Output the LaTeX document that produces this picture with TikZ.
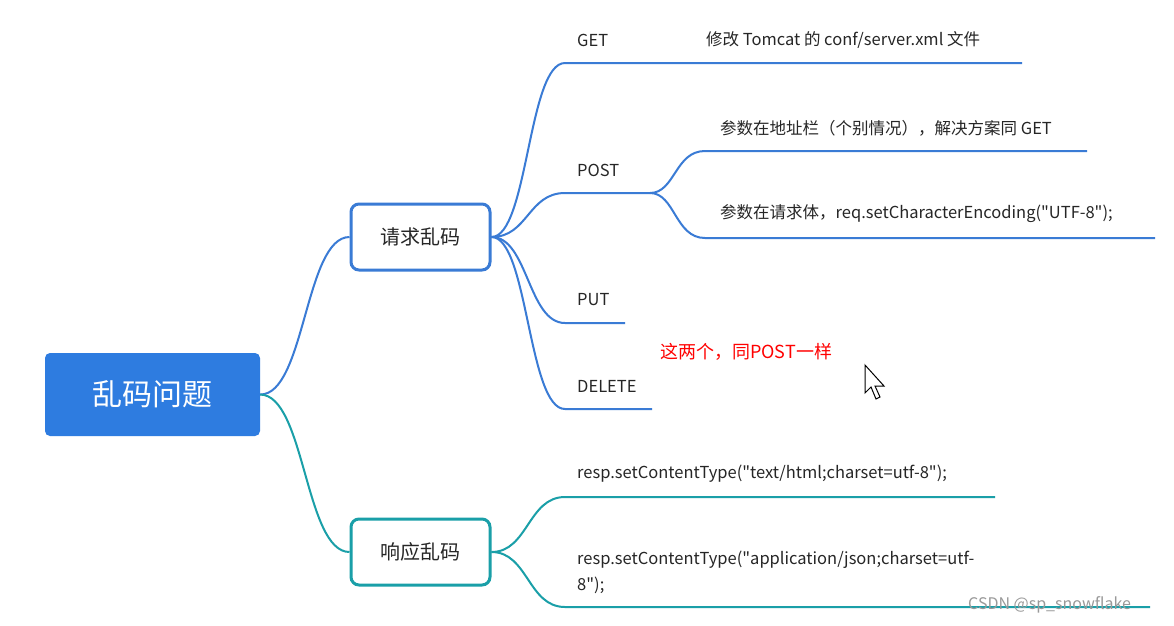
\documentclass[tikz,border=0pt]{standalone}
\usepackage{fontspec}
\setmainfont{Noto Sans CJK SC}[Ligatures=TeXOff]
\begin{document}
\begin{tikzpicture}[x=1pt,y=-1pt,
  bl/.style={draw=myblue,line width=2pt},
  tl/.style={draw=myteal,line width=2pt},
  lab/.style={anchor=west,inner sep=0pt,font=\fontsize{16.5}{19}\selectfont,text=black!85}]
\definecolor{myblue}{HTML}{3A7BD5}
\definecolor{myteal}{HTML}{1A9FA8}
\definecolor{rootb}{HTML}{2E7CE0}
\useasboundingbox (0,0) rectangle (1174,625);
\fill[white] (0,0) rectangle (1174,625);
\node[fill=rootb,rounded corners=5pt,minimum width=215pt,minimum height=83pt,text=white,font=\fontsize{30}{34}\selectfont] (root) at (152.5,394.5) {乱码问题};
\node[draw=myblue,line width=3pt,fill=white,rounded corners=8pt,minimum width=139pt,minimum height=66pt,font=\fontsize{20}{24}\selectfont,text=black!85] (req) at (420.5,237) {请求乱码};
\node[draw=myteal,line width=3pt,fill=white,rounded corners=8pt,minimum width=139pt,minimum height=66pt,font=\fontsize{20}{24}\selectfont,text=black!85] (resp) at (420.5,552) {响应乱码};
\coordinate (rr) at (root.east);
\draw[bl] (rr) .. controls (305,395) and (305,237) .. (req.west);
\draw[tl] (rr) .. controls (305,395) and (305,552) .. (resp.west);
% request branches
\coordinate (qr) at (req.east);
\coordinate (g0) at (565,63); \coordinate (g1) at (1022,63);
\coordinate (p0) at (565,193); \coordinate (p1) at (650,193);
\coordinate (u0) at (565,323); \coordinate (u1) at (625,323);
\coordinate (d0) at (565,409); \coordinate (d1) at (652,409);
\draw[bl] (qr) .. controls (528,237) and (528,63) .. (g0) -- (g1);
\draw[bl] (qr) .. controls (528,237) and (528,193) .. (p0) -- (p1);
\draw[bl] (qr) .. controls (528,237) and (528,323) .. (u0) -- (u1);
\draw[bl] (qr) .. controls (528,237) and (528,409) .. (d0) -- (d1);
\coordinate (a0) at (705,151); \coordinate (a1) at (1087,151);
\coordinate (b0) at (705,238); \coordinate (b1) at (1155,238);
\draw[bl] (p1) .. controls (675,193) and (675,151) .. (a0) -- (a1);
\draw[bl] (p1) .. controls (675,193) and (675,238) .. (b0) -- (b1);
% response branches
\coordinate (sr) at (resp.east);
\coordinate (r0) at (565,497); \coordinate (r1) at (995,497);
\coordinate (s0) at (565,607); \coordinate (s1) at (1150,607);
\draw[tl] (sr) .. controls (528,552) and (528,497) .. (r0) -- (r1);
\draw[tl] (sr) .. controls (528,552) and (528,607) .. (s0) -- (s1);
% labels
\node[lab] (tg) at (577,40) {GET};
\node[lab] (tg2) at (706,40) {修改 Tomcat 的 conf/server.xml 文件};
\node[lab] (tp) at (577,170) {POST};
\node[lab] (ta) at (720,128) {参数在地址栏（个别情况），解决方案同 GET};
\node[lab] (tb) at (720,214) {参数在请求体，req.setCharacterEncoding("UTF-8");};
\node[lab] (tu) at (577,300) {PUT};
\node[lab] (td) at (577,386) {DELETE};
\node[lab,text=red,font=\fontsize{18}{21}\selectfont] (tr) at (660,352) {这两个，同POST一样};
\node[lab] (t1) at (577,474) {resp.setContentType("text/html;charset=utf-8");};
\node[lab] (t2) at (577,560) {resp.setContentType("application/json;charset=utf-};
\node[lab] (t3) at (577,585) {8");};
\node[anchor=west,inner sep=0pt,font=\fontsize{16}{18}\selectfont,text=black!40] (wm) at (968,605) {CSDN @sp\_snowflake};
% mouse cursor
\draw[black,fill=white,line width=1pt] (865,365) -- (865,393) -- (871,387) -- (876,399) -- (880,397) -- (875,386) -- (884,386) -- cycle;
\end{tikzpicture}
\end{document}
